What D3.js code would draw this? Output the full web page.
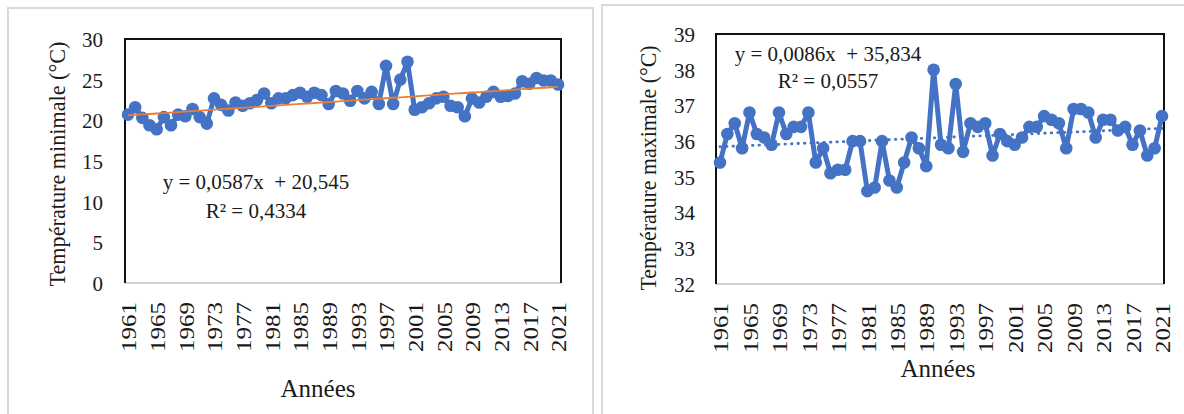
<!DOCTYPE html>
<html><head><meta charset="utf-8">
<script src="https://cdn.jsdelivr.net/npm/d3@7"></script>
<style>
html,body{margin:0;padding:0;background:#fff;}
svg{display:block;}
svg text{font-family:"Liberation Serif","Times New Roman",serif !important;}
</style></head>
<body>
<svg id="c" width="1184" height="414"></svg>
<script>
const years = d3.range(1961, 2022);
const tickYears = [1961,1965,1969,1973,1977,1981,1985,1989,1993,1997,2001,2005,2009,2013,2017,2021];
const tminValues = [20.7,21.6,20.3,19.4,18.9,20.4,19.4,20.7,20.5,21.4,20.4,19.6,22.7,21.9,21.2,22.2,21.8,22.1,22.5,23.3,
  22.1,22.7,22.7,23.1,23.4,22.9,23.4,23.1,22.0,23.6,23.3,22.4,23.6,22.7,23.5,22.0,26.7,22.0,25.0,27.2,
  21.3,21.6,22.1,22.7,22.9,21.8,21.6,20.5,22.7,22.2,22.9,23.5,22.9,23.0,23.3,24.8,24.5,25.2,24.9,24.9,24.4];
const tmaxValues = [35.4,36.2,36.5,35.8,36.8,36.2,36.1,35.9,36.8,36.2,36.4,36.4,36.8,35.4,35.8,35.1,35.2,35.2,36.0,36.0,
  34.6,34.7,36.0,34.9,34.7,35.4,36.1,35.8,35.3,38.0,35.9,35.8,37.6,35.7,36.5,36.4,36.5,35.6,36.2,36.0,
  35.9,36.1,36.4,36.4,36.7,36.6,36.5,35.8,36.9,36.9,36.8,36.1,36.6,36.6,36.3,36.4,35.9,36.3,35.6,35.8,36.7];
const tminTicks = [0,5,10,15,20,25,30];
const tmaxTicks = [32,33,34,35,36,37,38,39];
const tminTrend = [0.0587, 20.545];
const tmaxTrend = [0.0086, 35.834];
const tminEq = ["y = 0,0587x  + 20,545", "R² = 0,4334"];
const tmaxEq = ["y = 0,0086x  + 35,834", "R² = 0,0557"];
const yTitles = ["Température minimale (°C)", "Température maximale (°C)"];
const xTitle = "Années";

const svg = d3.select("#c");
const BLUE = "#4472C4";
const TXT = "#1a1a1a";

// panel borders
svg.append("rect").attr("x",8).attr("y",8).attr("width",585).attr("height",420)
  .attr("fill","none").attr("stroke","#d9d9d9").attr("stroke-width",2);
svg.append("rect").attr("x",602).attr("y",5).attr("width",600).attr("height",420)
  .attr("fill","none").attr("stroke","#d9d9d9").attr("stroke-width",2);

function drawChart(cfg){
  const g = svg.append("g");
  const x = d3.scalePoint().domain(years).range([cfg.px0, cfg.px1]);
  const y = d3.scaleLinear().domain(cfg.dom).range([cfg.bottom, cfg.top]);

  // y tick labels
  const ya = d3.axisLeft(y).tickValues(cfg.yticks).tickFormat(d3.format("d")).tickSize(0).tickPadding(0);
  const yg = g.append("g").attr("transform",`translate(${cfg.ylabX},0)`).call(ya);
  yg.select(".domain").remove();
  yg.selectAll("text").attr("font-size",21).attr("fill",TXT).attr("dy","0.35em");

  // x tick labels
  const xa = d3.axisBottom(x).tickValues(tickYears).tickSize(0).tickPadding(0);
  const xg = g.append("g").attr("transform",`translate(0,${cfg.bottom})`).call(xa);
  xg.select(".domain").remove();
  xg.selectAll("text").attr("font-size",22).attr("fill",TXT)
    .attr("transform","rotate(-90)").attr("text-anchor","end")
    .attr("x",-19).attr("y",0).attr("dy","0.35em")
    .attr("textLength",50).attr("lengthAdjust","spacingAndGlyphs");

  // frame
  g.append("line").attr("x1",cfg.fx0).attr("x2",cfg.fx1).attr("y1",cfg.bottom).attr("y2",cfg.bottom)
    .attr("stroke","#d0d0d0").attr("stroke-width",2);
  g.append("path").attr("d",`M${cfg.fx0},${cfg.bottom}V${cfg.top}H${cfg.fx1}V${cfg.bottom}`)
    .attr("fill","none").attr("stroke","#111").attr("stroke-width",2);

  // data line
  const pts = years.map((yr,i)=>({yr, v: cfg.values[i]}));
  g.append("path").datum(pts)
    .attr("d", d3.line().x(d=>x(d.yr)).y(d=>y(d.v)))
    .attr("fill","none").attr("stroke",BLUE).attr("stroke-width",5).attr("stroke-linejoin","round");
  g.selectAll("circle").data(pts).join("circle")
    .attr("cx",d=>x(d.yr)).attr("cy",d=>y(d.v)).attr("r",6.3).attr("fill",BLUE);

  // trend line
  const tr = years.map((yr,i)=>({yr, v: cfg.trend[0]*(i+1)+cfg.trend[1]}));
  const tp = g.append("path").datum(tr)
    .attr("d", d3.line().x(d=>x(d.yr)).y(d=>y(d.v)))
    .attr("fill","none").attr("stroke",cfg.trendColor).attr("stroke-width",cfg.trendWidth);
  if (cfg.trendDash) tp.attr("stroke-dasharray",cfg.trendDash).attr("stroke-linecap","round");
  if (cfg.trendOnTop === false) tp.lower();

  // equation
  cfg.eq.forEach((t,i)=>{
    g.append("text").attr("x",cfg.eqX).attr("y",cfg.eqY[i]).attr("text-anchor","middle")
      .attr("font-size",21).attr("fill",TXT).style("white-space","pre").attr("xml:space","preserve").text(t);
  });

  // y title
  g.append("text").attr("transform",`translate(${cfg.ytX},${cfg.ytY}) rotate(-90)`)
    .attr("text-anchor","middle").attr("dy","0.35em").attr("font-size",23).attr("fill",TXT)
    .attr("textLength",245).attr("lengthAdjust","spacingAndGlyphs").text(cfg.ytitle);
  // x title
  g.append("text").attr("x",cfg.xtX).attr("y",cfg.xtY).attr("text-anchor","middle")
    .attr("dy","0.35em").attr("font-size",25).attr("fill",TXT).text(xTitle);
}

drawChart({values:tminValues, dom:[0,30], yticks:tminTicks, top:39, bottom:283,
  px0:128, px1:558, fx0:125, fx1:561, ylabX:103,
  trend:tminTrend, trendColor:"#ED7D31", trendWidth:1.8,
  eq:tminEq, eqX:256, eqY:[189,218], ytitle:yTitles[0], ytX:57, ytY:164, xtX:318, xtY:388});

drawChart({values:tmaxValues, dom:[32,39], yticks:tmaxTicks, top:34, bottom:284,
  px0:720, px1:1162, fx0:716, fx1:1164, ylabX:695,
  trend:tmaxTrend, trendColor:BLUE, trendWidth:2.8, trendDash:"0.5,6", trendOnTop:false,
  eq:tmaxEq, eqX:828, eqY:[61,88], ytitle:yTitles[1], ytX:648, ytY:168, xtX:938, xtY:368});
</script>
</body></html>
